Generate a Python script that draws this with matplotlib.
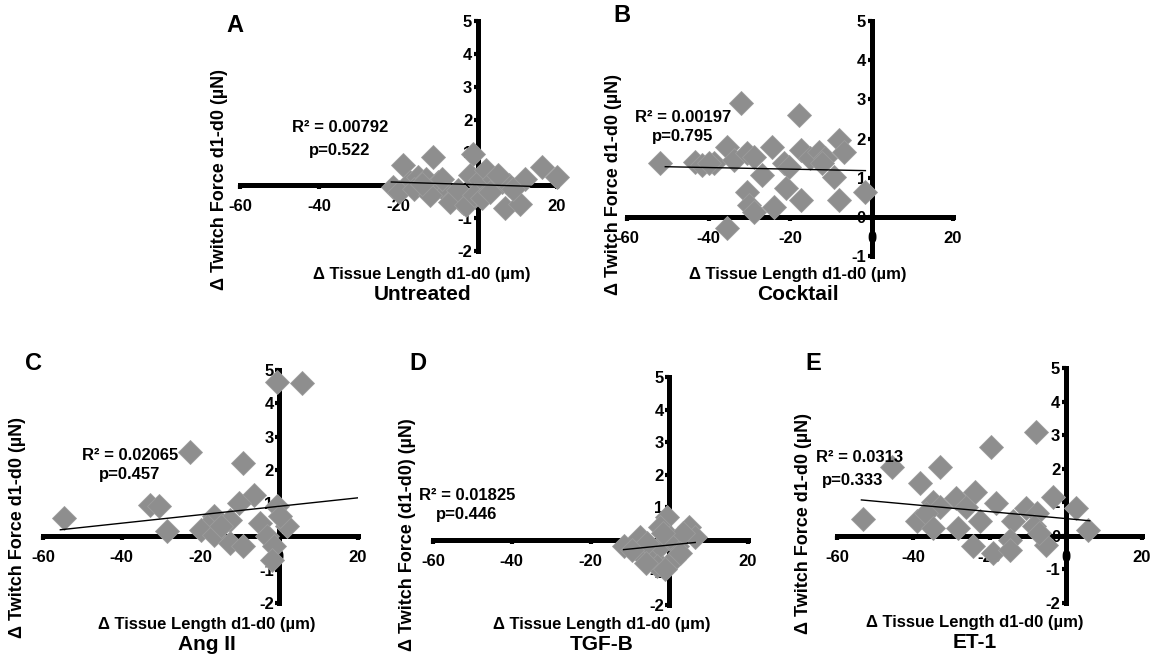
import matplotlib
matplotlib.use("Agg")
from matplotlib import pyplot as plt

plt.rcParams['font.family'] = ['Liberation Sans', 'DejaVu Sans']
plt.rcParams['font.weight'] = 'bold'
plt.rcParams['axes.unicode_minus'] = False

W, H = 1157, 661

# ---- data ----
untreated_x = [-21.4, -18.9, -17, -15, -13, -11.3, -10, -8, -6, -4, -1.2, -2, 0.5, 2.2,
               4, 6, 6.8, 8, 10.6, 12, 16.1, 19.9, -20, -16, -12, -9, -7, -5, -3, -1,
               1, 3, 5, 9, -14]
untreated_y = [-0.05, 0.61, 0.1, 0.25, 0.2, 0.86, 0.1, -0.2, -0.35, -0.5, 0.96, 0.3, 0.15, 0.46,
               0.2, 0.1, -0.68, 0.0, -0.56, 0.2, 0.56, 0.25, -0.2, -0.1, -0.3, 0.2, -0.5, -0.15,
               -0.6, -0.3, -0.4, -0.2, 0.3, -0.1, 0.05]
untreated_fit_x = [-21.8, 18.2]
untreated_fit_y = [0.10, -0.05]

cocktail_x = [-51.8, -43.2, -41.5, -38.7, -35.4, -33.8, -32.1, -30.5, -28.9, -30.5, -30.1,
              -28.9, -35.4, -26.8, -24.4, -24.0, -21.5, -21.1, -20.3, -17.8, -17.4, -17.4,
              -15.0, -12.9, -11.3, -9.3, -8.0, -6.8, -8.0, -1.5, -12.1, -40.0]
cocktail_y = [1.37, 1.40, 1.32, 1.37, 1.79, 1.45, 2.90, 1.62, 1.53, 0.64, 0.30,
              0.13, -0.28, 1.07, 1.79, 0.26, 1.37, 0.73, 1.28, 2.60, 0.43, 1.70,
              1.49, 1.66, 1.49, 1.02, 1.96, 1.66, 0.43, 0.64, 1.37, 1.37]
cocktail_fit_x = [-50.6, -1.5]
cocktail_fit_y = [1.28, 1.18]

angii_x = [-54.7, -32.7, -30.6, -28.5, -22.6, -9.1, -0.6, 5.8, -6.5, -10.3, -16.6, -18.3,
           -20.0, -16.6, -12.4, -9.1, -12.4, -4.8, -3.1, -1.4, -1.9, -0.6, 2.0, 0.3, -14.9]
angii_y = [0.55, 0.95, 0.90, 0.15, 2.55, 2.20, 4.65, 4.60, 1.25, 1.00, 0.60, 0.30,
           0.20, 0.05, -0.20, -0.30, 0.50, 0.40, 0.00, -0.30, -0.70, 0.90, 0.30, 0.60, 0.30]
angii_fit_x = [-55.6, 20.0]
angii_fit_y = [0.20, 1.16]

tgfb_x = [-11.6, -7.4, -0.6, -2.3, 4.9, 6.6, -7.4, -4.0, 1.1, -2.3, 1.9, -5.7, 0.2,
          -9.5, -3.0, 3.5, -1.0, -6.0, 2.8, -1.5]
tgfb_y = [-0.2, 0.1, 0.7, 0.4, 0.4, 0.1, -0.4, -0.6, -0.6, -0.2, -0.2, -0.1, 0.1,
          -0.3, -0.8, 0.2, -0.9, -0.7, -0.4, 0.2]
tgfb_fit_x = [-11.6, 6.6]
tgfb_fit_y = [-0.30, -0.08]

et1_x = [-53.2, -45.7, -38.3, -33.1, -39.1, -34.8, -33.1, -36.6, -34.8, -28.7, -26.1,
         -23.9, -22.6, -28.3, -24.3, -18.2, -19.5, -19.1, -13.8, -10.3, -14.7, -14.7,
         -7.6, -8.4, -7.7, -5.1, -3.3, 2.8, 5.9, -6.9]
et1_y = [0.50, 2.06, 1.57, 2.06, 0.43, 1.02, 0.87, 0.68, 0.24, 1.12, 0.87,
         1.30, 0.45, 0.24, -0.30, 0.97, 2.66, -0.50, 0.43, 0.83, -0.13, -0.42,
         0.68, 0.28, 3.10, -0.26, 1.17, 0.83, 0.18, 0.08]
et1_fit_x = [-53.6, 6.3]
et1_fit_y = [1.07, 0.45]

x_ticks = [-60, -40, -20, 0, 20]
marker_grey = '#8e8e8e'


def px(x, y):
    """pixel position (from top-left) -> figure fraction"""
    return x / W, 1 - y / H


def add_panel(left, top, right, bottom, xs, ys, fit_x, fit_y, ymin):
    ax = fig.add_axes([left / W, 1 - bottom / H, (right - left) / W, (bottom - top) / H])
    ax.set_xlim(-60, 20)
    ax.set_ylim(ymin, 5)
    ax.patch.set_visible(False)
    for side in ['top', 'right']:
        ax.spines[side].set_visible(False)
    for side in ['left', 'bottom']:
        ax.spines[side].set_position(('data', 0))
        ax.spines[side].set_linewidth(3.6)
    ax.set_xticks(x_ticks)
    ax.set_yticks(list(range(ymin, 6)))
    ax.tick_params(axis='x', labelsize=12, length=3, width=3, pad=7)
    ax.tick_params(axis='y', labelsize=12, length=3, width=3, pad=1)
    for lbl in ax.get_xticklabels() + ax.get_yticklabels():
        lbl.set_fontweight('bold')
    ax.plot(xs, ys, 'D', ms=12, color=marker_grey, mec='#9c9c9c', mew=0.6,
            ls='none', zorder=3, clip_on=False)
    ax.plot(fit_x, fit_y, color='black', lw=1, zorder=4)
    return ax


def add_texts(letter, letter_xy, ylab, ylab_xy, xlab_xy, title, title_xy, r2, r2_xy, p, p_xy):
    fig.text(*px(*letter_xy), letter, fontsize=17, ha='center', va='center')
    fig.text(*px(*ylab_xy), ylab, fontsize=13, rotation=90, ha='center', va='center')
    fig.text(*px(*xlab_xy), 'Δ Tissue Length d1-d0 (µm)', fontsize=12, ha='center', va='center')
    fig.text(*px(*title_xy), title, fontsize=15, ha='center', va='center')
    fig.text(*px(*r2_xy), r2, fontsize=12, ha='center', va='center')
    fig.text(*px(*p_xy), p, fontsize=12, ha='center', va='center')


fig = plt.figure(figsize=(W / 100, H / 100), dpi=100)

add_panel(240, 21, 557, 251, untreated_x, untreated_y, untreated_fit_x, untreated_fit_y, -2)
add_panel(627, 21, 953, 256, cocktail_x, cocktail_y, cocktail_fit_x, cocktail_fit_y, -1)
add_panel(43, 370, 358, 603, angii_x, angii_y, angii_fit_x, angii_fit_y, -2)
add_panel(433, 377, 748, 605, tgfb_x, tgfb_y, tgfb_fit_x, tgfb_fit_y, -2)
add_panel(837, 368, 1142, 603, et1_x, et1_y, et1_fit_x, et1_fit_y, -2)

force_label = 'Δ Twitch Force d1-d0 (µN)'
add_texts('A', (235, 25), force_label, (220, 180), (422, 274), 'Untreated', (423, 294),
          'R² = 0.00792', (340, 128), 'p=0.522', (340, 150))
add_texts('B', (622, 16), force_label, (613, 184), (798, 274), 'Cocktail', (798, 294),
          'R² = 0.00197', (683, 117), 'p=0.795', (683, 137))
add_texts('C', (33, 363), force_label, (18, 527), (207, 625), 'Ang II', (207, 645),
          'R² = 0.02065', (130, 455), 'p=0.457', (130, 475))
add_texts('D', (418, 363), 'Δ Twitch Force (d1-d0) (µN)', (407, 535), (602, 625), 'TGF-B',
          (602, 645), 'R² = 0.01825', (467, 495), 'p=0.446', (467, 515))
add_texts('E', (813, 363), force_label, (803, 524), (975, 622), 'ET-1', (975, 642),
          'R² = 0.0313', (860, 458), 'p=0.333', (853, 480))

fig.savefig('out.png', dpi=100)
